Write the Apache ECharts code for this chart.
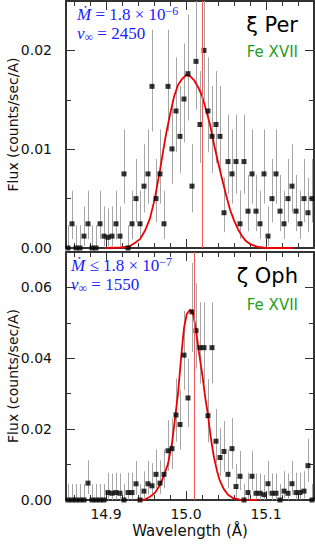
<!DOCTYPE html>
<html><head><meta charset="utf-8">
<script src="https://cdn.jsdelivr.net/npm/echarts@6/dist/echarts.min.js"></script>
<style>html,body{margin:0;padding:0;background:#fff}#c{width:315px;height:545px}</style>
</head><body><div id="c"></div>
<script>
// ---------- data ----------
const wave = [14.8525,14.8575,14.8625,14.8675,14.8725,14.8775,14.8825,14.8875,14.8925,14.8975,
  14.9025,14.9075,14.9125,14.9175,14.9225,14.9275,14.9325,14.9375,14.9425,14.9475,
  14.9525,14.9575,14.9625,14.9675,14.9725,14.9775,14.9825,14.9875,14.9925,14.9975,
  15.0025,15.0075,15.0125,15.0175,15.0225,15.0275,15.0325,15.0375,15.0425,15.0475,
  15.0525,15.0575,15.0625,15.0675,15.0725,15.0775,15.0825,15.0875,15.0925,15.0975,
  15.1025,15.1075,15.1125,15.1175,15.1225,15.1275,15.1325,15.1375,15.1425,15.1475,
  15.1525,15.1575];

const perFlux = [0,.00245,0,0,.0012,.00245,0,0,.00245,.0012,
  .00108,.0012,.00245,.0012,.0075,0,.00245,.005,.00245,.00626,
  .0075,.01636,.005,.0075,.00245,.01636,.01003,.01387,.0113,.01508,
  .01764,.00626,.01889,.0125,.02,.01387,.0113,.0125,.0113,.00357,
  .00875,.0075,.00875,.00245,.00875,.00373,.0075,.00373,.00245,.0075,
  .0012,.005,.0075,.00373,.00245,.005,.00626,.00373,.00245,.005,
  .00357,.005];
const perHi = [.0023,.0058,.0023,.0023,.0042,.0058,.0023,.0023,.0058,.0042,
  .0040,.0042,.0058,.0042,.0120,.0023,.0058,.0090,.0058,.0105,
  .0120,.0221,.0090,.0120,.0058,.0221,.0150,.0193,.0164,.0207,
  .0236,.0105,.0250,.0179,.0264,.0193,.0164,.0179,.0164,.0071,
  .0135,.0120,.0135,.0058,.0135,.0074,.0120,.0074,.0058,.0120,
  .0042,.0090,.0120,.0074,.0058,.0090,.0105,.0074,.0058,.0090,
  .0071,.0090];
const perLo = [0,.0009,0,0,.0002,.0009,0,0,.0009,.0002,
  .0002,.0002,.0009,.0002,.0045,0,.0009,.0026,.0009,.0036,
  .0045,.0118,.0026,.0045,.0009,.0118,.0065,.0097,.0076,.0107,
  .0129,.0036,.0140,.0086,.0150,.0097,.0076,.0086,.0076,.0016,
  .0055,.0045,.0055,.0009,.0055,.0017,.0045,.0017,.0009,.0045,
  .0002,.0026,.0045,.0017,.0009,.0026,.0036,.0017,.0009,.0026,
  .0016,.0026];

const ophFlux = [0,0,0,0,0,.00476,0,0,0,0,
  .0021,.0019,.0021,.0019,0,.0021,.0021,.00457,0,.0025,
  .00457,.004,.00724,.00476,.00724,.0139,.0145,.024,.0213,.0409,
  .0288,.0531,.0478,.043,.043,.0238,.043,.0166,.012,.0137,
  .00724,.0145,.0038,.0067,0,.0021,.0067,.0019,.0019,.0015,
  .0046,.0019,.0019,0,.0025,.0019,.0046,.0021,.0021,.0025,
  .0097,0];
const ophHi = [.0045,.0045,.0045,.0045,.0045,.0112,.0045,.0045,.0045,.0045,
  .0077,.0075,.0077,.0075,.0045,.0077,.0077,.0110,.0045,.0081,
  .0110,.0104,.0143,.0112,.0143,.0225,.0231,.0343,.0312,.0534,
  .0398,.0669,.0612,.0558,.0558,.0341,.0558,.0257,.0202,.0223,
  .0143,.0231,.0102,.0138,.0045,.0077,.0138,.0075,.0075,.0071,
  .0110,.0075,.0075,.0045,.0081,.0075,.0110,.0077,.0077,.0081,
  .0173,.0045];
const ophLo = [0,0,0,0,0,.0017,0,0,0,0,
  .0001,0,.0001,0,0,.0001,.0001,.0015,0,.0005,
  .0015,.0009,.0033,.0017,.0033,.0082,.0088,.0165,.0142,.0311,
  .0206,.0418,.0371,.0329,.0329,.0163,.0329,.0104,.0068,.0080,
  .0033,.0088,.0007,.0028,0,.0001,.0028,0,0,0,
  .0015,0,0,0,.0005,0,.0015,.0001,.0001,.0005,
  .0051,0];

const perModelWave = [14.899,14.9175,14.925,14.93,14.936,14.9425,14.949,14.955,14.961,14.9675,
  14.975,14.98,14.985,14.99,14.995,15.0,15.005,15.01,15.015,15.02,
  15.025,15.03,15.035,15.04,15.045,15.05,15.055,15.06,15.065,15.07,
  15.075,15.08,15.09,15.1,15.134];
const perModel = [0,.00005,.0001,.0002,.0005,.0009,.0018,.003,.005,.0079,
  .0115,.0135,.0153,.0165,.0171,.0175,.0174,.017,.0163,.0154,
  .014,.0125,.0105,.0087,.007,.0054,.0039,.0028,.0019,.0012,
  .0007,.0004,.0001,0,0];

const ophModelWave = [14.939,14.949,14.955,14.961,14.9675,14.9725,14.9775,14.9825,14.986,14.99,
  14.994,14.9975,15.001,15.005,15.009,15.0125,15.016,15.02,15.024,15.0275,
  15.031,15.035,15.039,15.0425,15.0475,15.0525,15.059,15.0675,15.089];
const ophModel = [0,.0002,.0009,.002,.0042,.007,.0102,.016,.0225,.03,
  .0405,.0485,.0525,.0537,.0525,.048,.042,.036,.029,.024,
  .0175,.012,.008,.0053,.003,.0015,.0005,.0001,0];

const perLineWave = 15.0175;
const ophLineWave = 15.0135;

const xMajor = [14.9, 15.0, 15.1];
const xMinor = [14.86,14.88,14.92,14.94,14.96,14.98,15.02,15.04,15.06,15.08,15.12,15.14];
const perYMajor = [0, 0.01, 0.02];
const perYMinor = [0.005, 0.015];
const ophYMajor = [0, 0.02, 0.04, 0.06];
const ophYMinor = [0.01, 0.03, 0.05];

const perLabel = ['ξ Per', 'Fe XVII'];
const ophLabel = ['ζ Oph', 'Fe XVII'];

// ---------- chart ----------
const X_MIN = 14.85, X_MAX = 15.16;
const AX = '#333';
const SANS = 'DejaVu Sans';

function xAx(grid, pos, ticks, major, withLabels) {
  return {
    type: 'value', gridIndex: grid, position: pos, min: X_MIN, max: X_MAX,
    axisLine: { show: major, onZero: false, lineStyle: { color: AX, width: 2 } },
    axisTick: { show: true, inside: true, length: major ? 9 : 5, customValues: ticks,
      lineStyle: { color: AX, width: 1 } },
    axisLabel: withLabels ? { show: true, customValues: ticks, margin: 7, color: '#111',
      fontFamily: SANS, fontSize: 14, formatter: v => v.toFixed(1) } : { show: false },
    splitLine: { show: false },
    name: withLabels ? 'Wavelength (Å)' : '',
    nameLocation: 'middle', nameGap: 23, nameMoveOverlap: false,
    nameTextStyle: { fontFamily: SANS, fontSize: 15, color: '#111' }
  };
}
function yAx(grid, pos, max, ticks, major, withLabels) {
  return {
    type: 'value', gridIndex: grid, position: pos, min: 0, max: max,
    axisLine: { show: major, onZero: false, lineStyle: { color: AX, width: 2 } },
    axisTick: { show: true, inside: true, length: major ? 9 : 5, customValues: ticks,
      lineStyle: { color: AX, width: 1 } },
    axisLabel: withLabels ? { show: true, customValues: ticks, margin: 14, color: '#111',
      fontFamily: SANS, fontSize: 14, formatter: v => v.toFixed(2) } : { show: false },
    splitLine: { show: false },
    name: withLabels ? 'Flux (counts/sec/A)' : '',
    nameLocation: 'middle', nameGap: 46, nameRotate: 90, nameMoveOverlap: false,
    nameTextStyle: { fontFamily: SANS, fontSize: 14, color: '#111' }
  };
}

function errSeries(xi, yi, lo, hi) {
  return {
    type: 'custom', xAxisIndex: xi, yAxisIndex: yi, clip: true, silent: true, z: 1,
    encode: { x: 0, y: [1, 2] },
    data: wave.map((w, i) => [w, lo[i], hi[i]]),
    renderItem: (params, api) => {
      const a = api.coord([api.value(0), api.value(1)]);
      const b = api.coord([api.value(0), api.value(2)]);
      const x = Math.round(a[0]) + 0.5;
      return { type: 'line', shape: { x1: x, y1: a[1], x2: x, y2: b[1] },
        style: { stroke: '#a6a6a6', lineWidth: 1 } };
    }
  };
}
function ptSeries(xi, yi, flux) {
  return {
    type: 'scatter', xAxisIndex: xi, yAxisIndex: yi, symbol: 'rect', symbolSize: 5,
    itemStyle: { color: '#000' }, z: 4, silent: true, clip: true,
    data: wave.map((w, i) => [w, flux[i]])
  };
}
function modelSeries(xi, yi, mw, mv, lineW) {
  return {
    type: 'line', xAxisIndex: xi, yAxisIndex: yi, showSymbol: false, z: 3, silent: true,
    lineStyle: { color: '#ee0000', width: 1.8 },
    data: mw.map((w, i) => [w, mv[i]]),
    markLine: { symbol: 'none', silent: true, label: { show: false },
      lineStyle: { color: '#f05a5a', width: 1, type: 'solid' },
      data: [{ xAxis: lineW }] }
  };
}

const BLUE = '#2020ff', GREEN = '#1fa01f';
const rich = {
  it: { fontStyle: 'italic', fontFamily: 'Liberation Serif', fontSize: 17, fill: BLUE },
  sup: { fontFamily: 'Liberation Serif', fontSize: 12, fill: BLUE, verticalAlign: 'top', lineHeight: 12 },
  sub: { fontFamily: 'Liberation Serif', fontSize: 12, fill: BLUE, verticalAlign: 'bottom', lineHeight: 12 }
};
function annot(x, y, txt) {
  return { type: 'text', x: x, y: y, z: 10, silent: true,
    style: { text: txt, rich: rich, fill: BLUE, fontFamily: 'Liberation Serif', fontSize: 17, lineHeight: 19 } };
}
function starText(x, y, txt) {
  return { type: 'text', x: x, y: y, z: 10, silent: true,
    style: { text: txt, fill: '#000', fontFamily: SANS, fontSize: 21, align: 'right', verticalAlign: 'middle' } };
}
function ionText(x, y, txt) {
  return { type: 'text', x: x, y: y, z: 10, silent: true,
    style: { text: txt, fill: GREEN, fontFamily: SANS, fontSize: 15, align: 'right', verticalAlign: 'middle' } };
}

const chart = echarts.init(document.getElementById('c'), null, { renderer: 'svg', width: 315, height: 545 });
chart.setOption({
  animation: false,
  backgroundColor: '#fff',
  grid: [
    { left: 66, top: 1, width: 248, height: 247, outerBoundsMode: 'none', containLabel: false },
    { left: 66, top: 252, width: 248, height: 248, outerBoundsMode: 'none', containLabel: false }
  ],
  xAxis: [
    xAx(0, 'bottom', xMajor, true, false), xAx(0, 'bottom', xMinor, false, false),
    xAx(0, 'top', xMajor, true, false), xAx(0, 'top', xMinor, false, false),
    xAx(1, 'bottom', xMajor, true, true), xAx(1, 'bottom', xMinor, false, false),
    xAx(1, 'top', xMajor, true, false), xAx(1, 'top', xMinor, false, false)
  ],
  yAxis: [
    yAx(0, 'left', 0.025, perYMajor, true, true), yAx(0, 'left', 0.025, perYMinor, false, false),
    yAx(0, 'right', 0.025, perYMajor, true, false), yAx(0, 'right', 0.025, perYMinor, false, false),
    yAx(1, 'left', 0.07, ophYMajor, true, true), yAx(1, 'left', 0.07, ophYMinor, false, false),
    yAx(1, 'right', 0.07, ophYMajor, true, false), yAx(1, 'right', 0.07, ophYMinor, false, false)
  ],
  series: [
    errSeries(0, 0, perLo, perHi), ptSeries(0, 0, perFlux),
    modelSeries(0, 0, perModelWave, perModel, perLineWave),
    errSeries(4, 4, ophLo, ophHi), ptSeries(4, 4, ophFlux),
    modelSeries(4, 4, ophModelWave, ophModel, ophLineWave)
  ],
  graphic: [
    annot(77, 5, '{it|Ṁ} = 1.8 × 10{sup|−6}\n{it|v}{sub|∞} = 2450'),
    starText(298, 25, perLabel[0]),
    ionText(298, 52, perLabel[1]),
    annot(71, 256, '{it|Ṁ} ≤ 1.8 × 10{sup|−7}\n{it|v}{sub|∞} = 1550'),
    starText(298, 276, ophLabel[0]),
    ionText(298, 305, ophLabel[1])
  ]
});
</script>
</body></html>
